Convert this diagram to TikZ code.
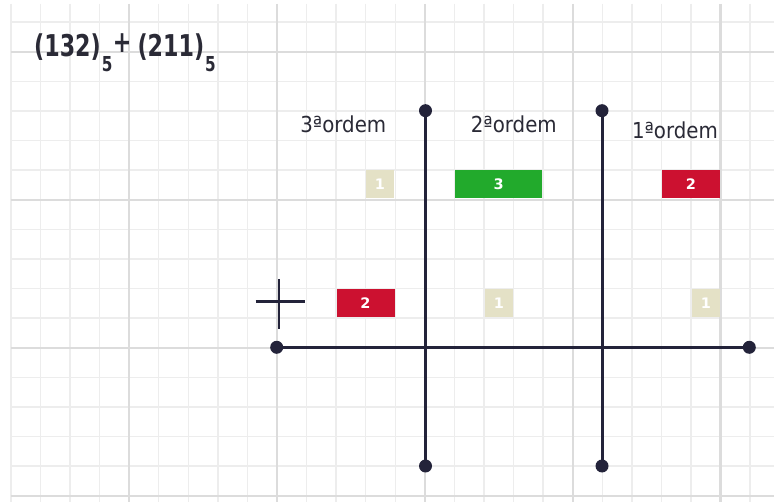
\documentclass[tikz,border=0pt]{standalone}
\usepackage{fontspec}
\newfontfamily\lblfont[FakeStretch=0.9]{DejaVu Sans}
\newfontfamily\ttlfont[FakeStretch=0.74]{DejaVu Sans}
\newfontfamily\boxfont{DejaVu Sans}
\definecolor{inkc}{HTML}{23233A}
\definecolor{beigec}{HTML}{E4E1C6}
\definecolor{greenc}{HTML}{22AA2C}
\definecolor{redc}{HTML}{CC1130}
\definecolor{minorc}{HTML}{EDEDED}
\definecolor{majorc}{HTML}{DCDCDC}
\definecolor{textc}{HTML}{2A2A36}
\tikzset{
  minorgrid/.style={draw=minorc, line width=1.4pt},
  majorgrid/.style={draw=majorc, line width=2.2pt},
  axis/.style={draw=inkc, line width=3pt},
  dot/.style={circle, fill=inkc, inner sep=0pt, minimum size=13pt},
  digitbox/.style={rectangle, inner sep=0pt, minimum height=28pt, text=white,
    font=\boxfont\bfseries\fontsize{14.5}{15}\selectfont},
  beigebox/.style={digitbox, fill=beigec, minimum width=28pt},
  greenbox/.style={digitbox, fill=greenc, minimum width=87pt},
  redbox/.style={digitbox, fill=redc, minimum width=58pt},
  lbl/.style={inner sep=0pt, anchor=base, text=textc,
    font=\lblfont\fontsize{22}{24}\selectfont},
  plusmark/.style={draw=inkc, line width=2.6pt}
}
\begin{document}
\begin{tikzpicture}[x=1pt,y=-1pt]
\useasboundingbox (0,0) rectangle (774,502);
\fill[white] (0,0) rectangle (774,502);
% grid
\foreach \k in {0,...,25}{
  \pgfmathtruncatemacro\m{mod(\k,5)}
  \ifnum\m=4\relax\else
  \draw[minorgrid] ({10.9+29.57*\k},4) -- ({10.9+29.57*\k},502);\fi
}
\foreach \k in {0,...,16}{
  \pgfmathtruncatemacro\m{mod(\k,5)}
  \ifnum\m=1\relax\else
  \draw[minorgrid] (10.9,{22.1+29.6*\k}) -- (774,{22.1+29.6*\k});\fi
}
\foreach \k in {4,9,14,19,24}{
  \draw[majorgrid] ({10.9+29.57*\k},4) -- ({10.9+29.57*\k},502);
}
\foreach \k in {1,6,11,16}{
  \draw[majorgrid] (10.9,{22.1+29.6*\k}) -- (774,{22.1+29.6*\k});
}
% title
\node[anchor=base west, inner sep=0pt, text=textc,
  font=\ttlfont\bfseries\fontsize{30}{31}\selectfont] (title) at (34,56.7)
  {(132)\hspace{1pt}\raisebox{-15pt}{\fontsize{20.6}{21}\selectfont 5}\hspace{0.5pt}\raisebox{4pt}{+}\hspace{6pt}(211)\hspace{1pt}\raisebox{-15pt}{\fontsize{20.6}{21}\selectfont 5}};
% labels
\node[lbl] (o3) at (343.3,132.7) {3ªordem};
\node[lbl] (o2) at (513.8,132.7) {2ªordem};
\node[lbl] (o1) at (675,139) {1ªordem};
% axes
\node[dot] (hl) at (276.7,347.3) {};
\node[dot] (hr) at (749.3,347.3) {};
\node[dot] (v1t) at (425.5,110.7) {};
\node[dot] (v1b) at (425.5,466) {};
\node[dot] (v2t) at (602,110.7) {};
\node[dot] (v2b) at (602,466) {};
\draw[axis] (hl.center) -- (hr.center);
\draw[axis] (v1t.center) -- (v1b.center);
\draw[axis] (v2t.center) -- (v2b.center);
% plus sign
\coordinate (pl) at (255.7,301.7);
\coordinate (pr) at (305,301.7);
\coordinate (pt) at (279,279.3);
\coordinate (pb) at (279,329);
\draw[plusmark] (pl) -- (pr);
\draw[plusmark] (pt) -- (pb);
% boxes
\node[beigebox] (a1) at (380,184.5) {1};
\node[greenbox] (a2) at (498.7,184.5) {3};
\node[redbox] (a3) at (690.8,184.5) {2};
\node[redbox] (c1) at (365.5,303.2) {2};
\node[beigebox] (c2) at (498.8,303.2) {1};
\node[beigebox] (c3) at (705.8,303.2) {1};
\end{tikzpicture}
\end{document}
